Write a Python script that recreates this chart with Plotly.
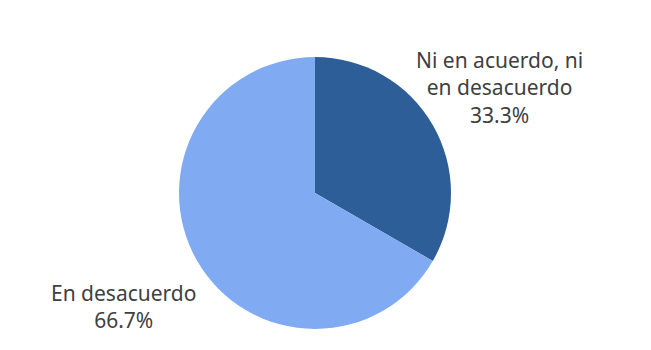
import plotly.graph_objects as go

# Survey response shares
labels = ["Ni en acuerdo, ni en desacuerdo", "En desacuerdo"]
display_labels = ["Ni en acuerdo, ni<br>en desacuerdo", "En desacuerdo"]
values = [1, 2]
colors = ["#2E5E98", "#80ABF3"]

W, H = 651, 350
total = sum(values)

fig = go.Figure(go.Pie(
    labels=labels,
    values=values,
    sort=False,
    direction="clockwise",
    rotation=0,
    marker=dict(colors=colors, line=dict(width=0)),
    textinfo="none",
    hoverinfo="label+percent",
    showlegend=False,
    domain=dict(x=[179 / W, 451 / W], y=[1 - 329 / H, 1 - 57 / H]),
))

# Outside labels: category name plus share
label_pos = [(499, 87), (124, 306)]
for name, v, (px, py) in zip(display_labels, values, label_pos):
    fig.add_annotation(
        x=px / W, y=1 - py / H, xref="paper", yref="paper",
        text=f"{name}<br>{v / total * 100:.1f}%",
        showarrow=False, align="center",
        xanchor="center", yanchor="middle",
        font=dict(family="Noto Sans, Roboto, sans-serif", size=21, color="#404040"),
    )

fig.update_layout(
    width=W, height=H,
    margin=dict(l=0, r=0, t=0, b=0),
    paper_bgcolor="white",
    plot_bgcolor="white",
)

fig.write_html("out.html")
